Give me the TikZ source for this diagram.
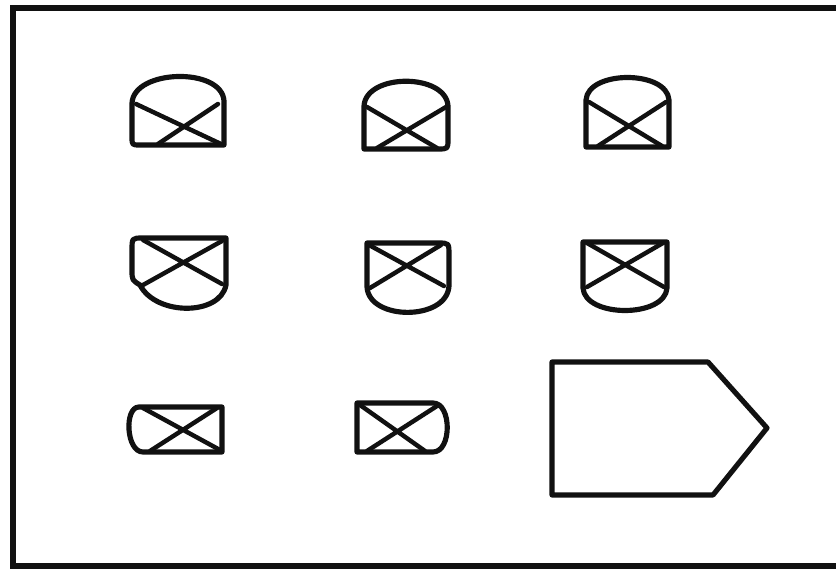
\documentclass[tikz,border=0pt]{standalone}
\usepackage{tikz}
\definecolor{ink}{HTML}{111111}
\tikzset{
  frame/.style={draw=ink, line width=4.6pt},
  lamp/.style={draw=ink, line width=4.4pt, line join=round},
  cross/.style={draw=ink, line width=3.8pt, line cap=round},
}

\begin{document}
\begin{tikzpicture}[x=0.03cm,y=-0.03cm]
        \useasboundingbox (0,0) rectangle (836,572);
        \draw[frame] (836,8) -- (13,8) -- (13,566) -- (836,566);
        % dome on top
        \draw[lamp] (132,103) .. controls (134,69) and (222,67) .. (224,101) -- (224,145) -- (140,145) .. controls (132,145) .. (132,137) -- cycle;
        \draw[lamp] (364,106) .. controls (366,73) and (446,73) .. (448,106) -- (448,139) .. controls (448,149) .. (438,149) -- (364,149) -- cycle;
        \draw[lamp] (586,100) .. controls (588,70) and (667,70) .. (669,100) -- (669,147) -- (586,147) -- cycle;
        % bowl below
        \draw[lamp] (226,238) -- (143,238) .. controls (132,238) .. (132,250) -- (132,270) .. controls (132,280) .. (140,285) .. controls (156,316) and (220,316) .. (226,285) -- cycle;
        \draw[lamp] (367,243) -- (438,243) .. controls (449,243) .. (449,255) -- (449,286) .. controls (447,321) and (369,321) .. (367,287) -- cycle;
        \draw[lamp] (583,242) -- (667,242) -- (667,288) .. controls (665,318) and (585,318) .. (583,288) -- cycle;
        % cap at the side
        \draw[lamp] (222,407) -- (222,452) -- (143,452) .. controls (126,452) and (124,407) .. (139,407) -- cycle;
        \draw[lamp] (357,403) -- (433,403) .. controls (452,403) and (452,452) .. (433,452) -- (357,452) -- cycle;
        \draw[lamp] (552,362) -- (708,362) -- (767,428) -- (713,495) -- (552,495) -- cycle;
        \foreach \a/\b/\c/\d in {%
          {{136,104}/{221,144}/{218,104}/{158,144}},
          {{367,107}/{437,148}/{446,107}/{377,148}},
          {{589,102}/{662,146}/{666,102}/{598,146}},
          {{143,240}/{222,284}/{222,241}/{143,285}},
          {{369,245}/{444,286}/{441,245}/{370,288}},
          {{587,243}/{664,287}/{663,243}/{587,287}},
          {{143,408}/{220,450}/{217,408}/{150,451}},
          {{360,405}/{425,451}/{437,406}/{367,451}}} {
          \draw[cross] (\a) -- (\b) (\c) -- (\d);
        }
      \end{tikzpicture}
\end{document}
